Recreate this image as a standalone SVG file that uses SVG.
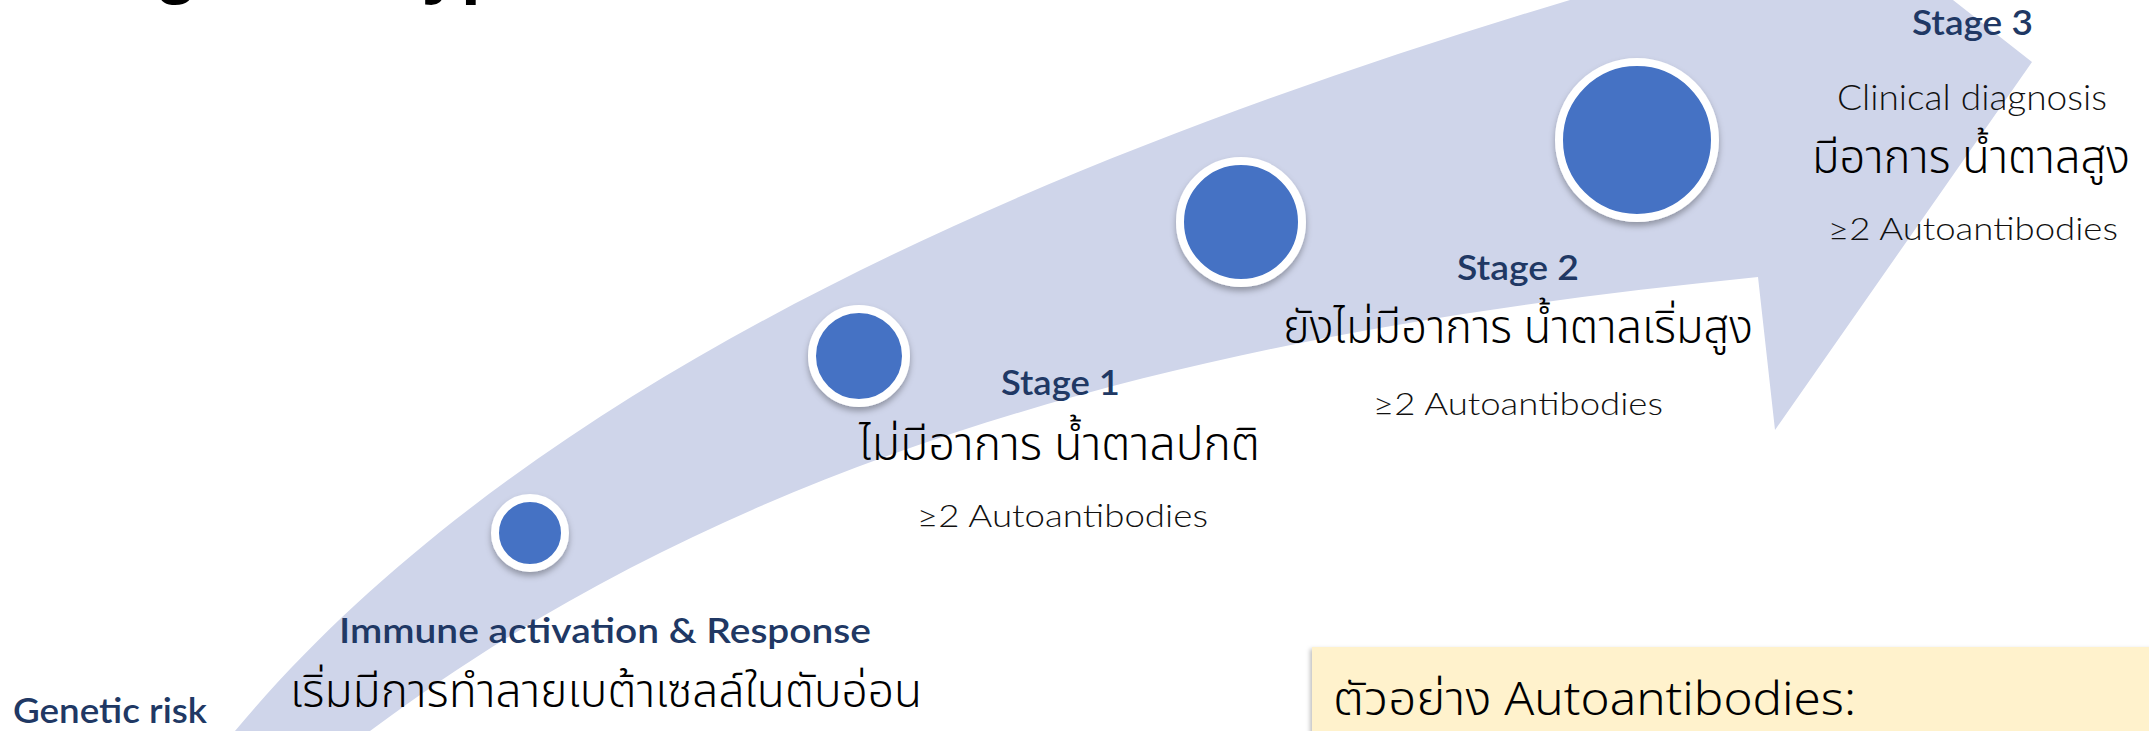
<svg xmlns="http://www.w3.org/2000/svg" width="2149" height="731" viewBox="0 0 2149 731">
  <defs>
    <filter id="sh" x="-30%" y="-30%" width="160%" height="170%">
      <feDropShadow dx="0" dy="4" stdDeviation="3" flood-color="#000" flood-opacity="0.3"/>
    </filter>
    <filter id="boxsh" x="-5%" y="-20%" width="110%" height="140%">
      <feDropShadow dx="-2" dy="2" stdDeviation="2" flood-color="#000" flood-opacity="0.25"/>
    </filter>
  </defs>
  <style>
    .band { fill: #CFD5EA; }
    .dot { fill: #4472C4; stroke: #FFFFFF; filter: url(#sh); }
    .hdr { font-family: Lato, "Open Sans", "Liberation Sans", sans-serif; font-weight: 600; fill: #203864; font-size: 35px; }
    .lt { font-family: Lato, "Open Sans", "Liberation Sans", sans-serif; font-weight: 300; fill: #111111; }
    .th { font-family: "Noto Sans Thai", "Noto Sans", "Leelawadee UI", sans-serif; font-weight: 300; fill: #000; font-size: 46px; }
    .title { font-family: "Liberation Sans", Arial, sans-serif; font-weight: 700; font-size: 71px; fill: #000; }
  </style>
  <rect width="2149" height="731" fill="#FFFFFF"/>
  <text class="title" x="44" y="-10">Stages of Type 1 Diabetes</text>
  <g id="connectors">
    <path class="band" d="M 228,740 L 235,731 C 535,371 1070,150 1570,0 L 1700,-39 L 1902,-40 L 2032,62 L 1775,430 L 1758,277 C 1258,327 770,431 370,731 L 380,740 Z"/>
  </g>
  <g id="node-genetic">
    <text class="hdr" x="13" y="723" textLength="194" lengthAdjust="spacingAndGlyphs">Genetic risk</text>
  </g>
  <g id="node-immune">
    <circle class="dot" cx="530" cy="533" r="35" stroke-width="8"/>
    <text class="hdr" x="339" y="643" textLength="532" lengthAdjust="spacingAndGlyphs">Immune activation &amp; Response</text>
    <text class="th" x="290" y="707" textLength="632" lengthAdjust="spacingAndGlyphs">เริ่มมีการทำลายเบต้าเซลล์ในตับอ่อน</text>
  </g>
  <g id="node-stage1">
    <circle class="dot" cx="859" cy="356" r="47" stroke-width="8"/>
    <text class="hdr" x="1001" y="395" textLength="119" lengthAdjust="spacingAndGlyphs">Stage 1</text>
    <text class="th" x="859" y="460" textLength="401" lengthAdjust="spacingAndGlyphs">ไม่มีอาการ น้ำตาลปกติ</text>
    <text class="lt" x="917" y="527" font-size="31" textLength="291" lengthAdjust="spacingAndGlyphs">≥2 Autoantibodies</text>
  </g>
  <g id="node-stage2">
    <circle class="dot" cx="1241" cy="222" r="61" stroke-width="8"/>
    <text class="hdr" x="1457" y="280" textLength="122" lengthAdjust="spacingAndGlyphs">Stage 2</text>
    <text class="th" x="1283" y="343" textLength="470" lengthAdjust="spacingAndGlyphs">ยังไม่มีอาการ น้ำตาลเริ่มสูง</text>
    <text class="lt" x="1373" y="415" font-size="31" textLength="290" lengthAdjust="spacingAndGlyphs">≥2 Autoantibodies</text>
  </g>
  <g id="node-stage3">
    <circle class="dot" cx="1637" cy="140" r="78" stroke-width="8"/>
    <text class="hdr" x="1912" y="35" textLength="121" lengthAdjust="spacingAndGlyphs">Stage 3</text>
    <text class="lt" x="1837" y="110" font-size="36" textLength="270" lengthAdjust="spacingAndGlyphs">Clinical diagnosis</text>
    <text class="th" x="1812" y="173" textLength="318" lengthAdjust="spacingAndGlyphs">มีอาการ น้ำตาลสูง</text>
    <text class="lt" x="1828" y="240" font-size="31" textLength="290" lengthAdjust="spacingAndGlyphs">≥2 Autoantibodies</text>
  </g>
  <g id="legend-box">
    <rect x="1312" y="647" width="900" height="120" fill="#FFF2CC" filter="url(#boxsh)"/>
    <text class="th" x="1333" y="715" font-size="43" textLength="523" lengthAdjust="spacingAndGlyphs">ตัวอย่าง Autoantibodies:</text>
  </g>
</svg>
